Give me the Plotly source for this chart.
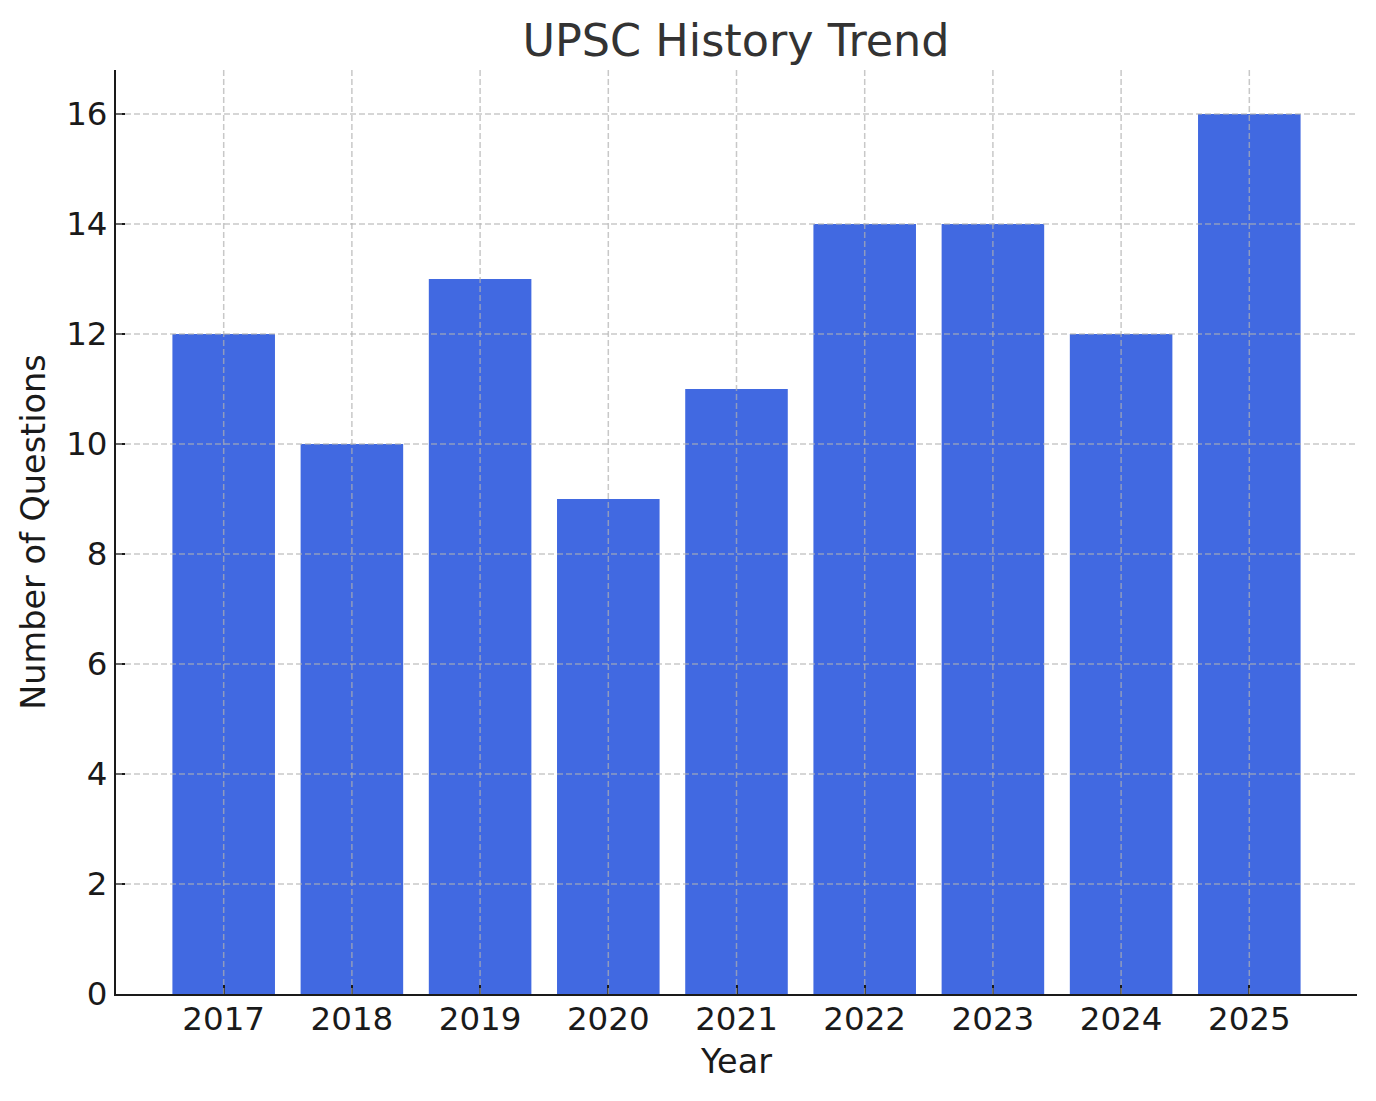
import plotly.graph_objects as go

years = [2017, 2018, 2019, 2020, 2021, 2022, 2023, 2024, 2025]
questions = [12, 10, 13, 9, 11, 14, 14, 12, 16]
y_ticks = [0, 2, 4, 6, 8, 10, 12, 14, 16]

FONT = "DejaVu Sans"
grid = dict(color="rgba(176,176,176,0.7)", width=1.5, dash="6px,3px")

fig = go.Figure(go.Bar(x=years, y=questions, width=0.8, marker_color="#4169E1",
                       marker_line_width=0))

# matplotlib draws the grid over the bars, so use shapes on the top layer
shapes = []
for yr in years:
    shapes.append(dict(type="line", xref="x", yref="paper", x0=yr, x1=yr, y0=0, y1=1,
                       line=grid, layer="above"))
for t in y_ticks:
    if t == 0:
        continue
    shapes.append(dict(type="line", xref="paper", yref="y", x0=0, x1=1, y0=t, y1=t,
                       line=grid, layer="above"))

# page body has an 8px margin, margins below make up for it
fig.update_layout(
    width=1376, height=1101,
    margin=dict(l=108, r=27, t=62, b=115),
    plot_bgcolor="white", paper_bgcolor="white",
    font=dict(family=FONT, size=32.5, color="#1a1a1a"),
    title=dict(text="UPSC History Trend", x=728 / 1376, xanchor="center",
               y=1 - 32 / 1101, yanchor="middle", yref="container",
               font=dict(size=44.5, color="#333333")),
    shapes=shapes,
    showlegend=False,
)
fig.update_xaxes(
    range=[years[0] - 0.84, years[-1] + 0.84],
    tickvals=years, ticktext=[str(y) for y in years],
    showgrid=False, zeroline=False,
    showline=True, linecolor="#1a1a1a", linewidth=2,
    ticks="inside", ticklen=9, tickwidth=2, tickcolor="#1a1a1a",
    ticklabelstandoff=-5,
    title=dict(text="Year", standoff=13, font=dict(size=33.5)),
)
fig.update_yaxes(
    range=[0, 16.8], tickvals=y_ticks,
    showgrid=False, zeroline=False,
    showline=True, linecolor="#1a1a1a", linewidth=2,
    ticks="inside", ticklen=9, tickwidth=2, tickcolor="#1a1a1a",
    title=dict(text="Number of Questions", standoff=10, font=dict(size=33.5)),
)

fig.write_html("out.html")
